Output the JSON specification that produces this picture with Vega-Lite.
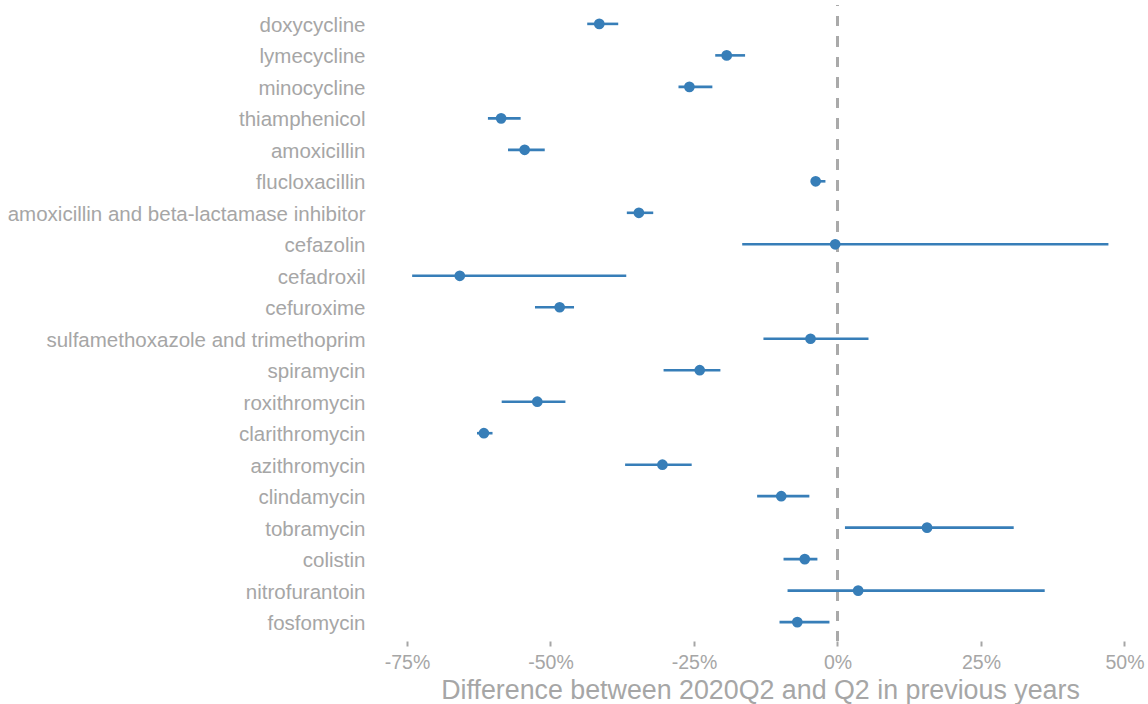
{
  "$schema": "https://vega.github.io/schema/vega-lite/v6.json",
  "autosize": {"type": "none"},
  "padding": {"left": 378, "top": 5, "right": 6, "bottom": 63},
  "width": 764,
  "height": 636,
  "background": "white",
  "config": {
    "view": {"stroke": null},
    "font": "Liberation Sans",
    "axis": {"grid": false, "domain": false, "labelColor": "#a6a6a6", "titleColor": "#a6a6a6", "tickColor": "#a6a6a6", "labelFont": "Liberation Sans", "titleFont": "Liberation Sans", "titleFontWeight": "normal"}
  },
  "data": {
    "values": [
      {"drug": "doxycycline", "est": -41.5, "lower": -43.6, "upper": -38.2},
      {"drug": "lymecycline", "est": -19.3, "lower": -21.3, "upper": -16.1},
      {"drug": "minocycline", "est": -25.8, "lower": -27.7, "upper": -21.8},
      {"drug": "thiamphenicol", "est": -58.6, "lower": -60.9, "upper": -55.2},
      {"drug": "amoxicillin", "est": -54.5, "lower": -57.4, "upper": -51.0},
      {"drug": "flucloxacillin", "est": -3.8, "lower": -4.6, "upper": -2.1},
      {"drug": "amoxicillin and beta-lactamase inhibitor", "est": -34.6, "lower": -36.7, "upper": -32.1},
      {"drug": "cefazolin", "est": -0.4, "lower": -16.6, "upper": 47.2},
      {"drug": "cefadroxil", "est": -65.8, "lower": -74.1, "upper": -36.8},
      {"drug": "cefuroxime", "est": -48.4, "lower": -52.7, "upper": -45.9},
      {"drug": "sulfamethoxazole and trimethoprim", "est": -4.7, "lower": -12.9, "upper": 5.4},
      {"drug": "spiramycin", "est": -24.0, "lower": -30.3, "upper": -20.4},
      {"drug": "roxithromycin", "est": -52.3, "lower": -58.5, "upper": -47.4},
      {"drug": "clarithromycin", "est": -61.6, "lower": -62.8, "upper": -60.1},
      {"drug": "azithromycin", "est": -30.5, "lower": -37.0, "upper": -25.4},
      {"drug": "clindamycin", "est": -9.8, "lower": -14.0, "upper": -4.9},
      {"drug": "tobramycin", "est": 15.6, "lower": 1.3, "upper": 30.7},
      {"drug": "colistin", "est": -5.7, "lower": -9.4, "upper": -3.5},
      {"drug": "nitrofurantoin", "est": 3.6, "lower": -8.7, "upper": 36.1},
      {"drug": "fosfomycin", "est": -7.0, "lower": -10.1, "upper": -1.4}
    ]
  },
  "encoding": {
    "y": {
      "field": "drug", "type": "nominal", "sort": null,
      "scale": {"type": "point", "padding": 0.6},
      "axis": {"title": null, "ticks": false, "labelPadding": 13, "labelFontSize": 20.5, "labelLimit": 400, "labelOffset": 1.5}
    }
  },
  "layer": [
    {
      "mark": {"type": "rule", "color": "#aaaaaa", "strokeWidth": 2.2, "strokeDash": [10, 10.52], "strokeDashOffset": 9.5},
      "encoding": {"x": {"datum": 0}, "y": null}
    },
    {
      "mark": {"type": "rule", "color": "#377eb8", "strokeWidth": 2.6},
      "encoding": {
        "x": {
          "field": "lower", "type": "quantitative",
          "scale": {"domain": [-80.05, 53.05], "nice": false, "zero": false},
          "axis": {
            "title": "Difference between 2020Q2 and Q2 in previous years",
            "values": [-75, -50, -25, 0, 25, 50],
            "labelExpr": "datum.value + '%'",
            "tickSize": 5, "tickWidth": 2, "labelPadding": 7, "labelFontSize": 19.5,
            "titleFontSize": 26.8, "titlePadding": 6
          }
        },
        "x2": {"field": "upper"}
      }
    },
    {
      "mark": {"type": "point", "filled": true, "opacity": 1, "color": "#377eb8", "size": 115, "shape": "circle"},
      "encoding": {"x": {"field": "est", "type": "quantitative"}}
    }
  ]
}
